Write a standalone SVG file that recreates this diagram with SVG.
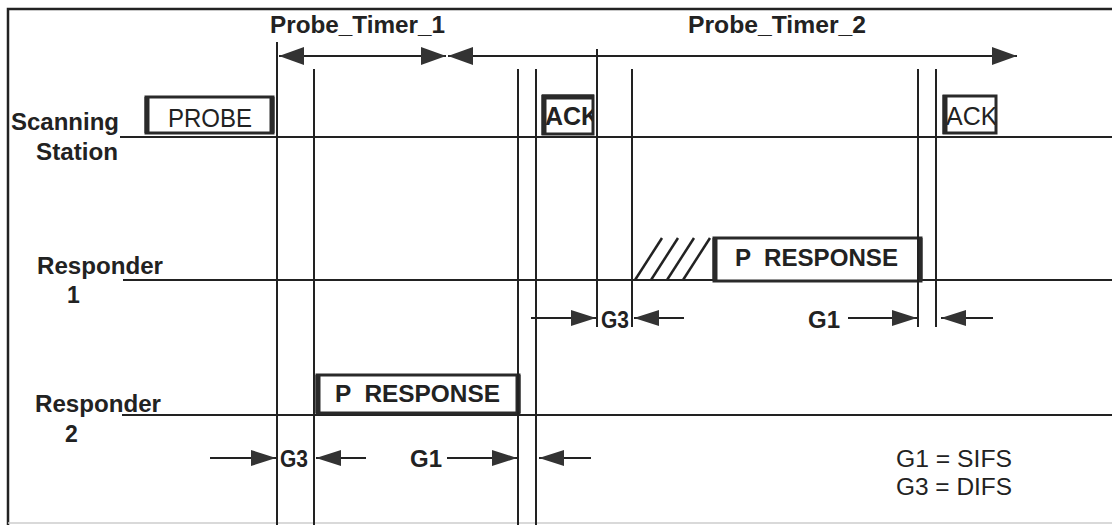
<svg xmlns="http://www.w3.org/2000/svg" width="1112" height="529" viewBox="0 0 1112 529">
<style>
.t{font-family:"Liberation Sans",Arial,sans-serif;font-size:23px;fill:#222;font-weight:bold}
.r{font-weight:normal}
.big{font-size:25px}
.ln{stroke:#222;stroke-width:2;fill:none}
.box{fill:#fff;stroke:#2a2a2a;stroke-width:3}
.side{stroke:#2a2a2a;stroke-width:5}
.hat{stroke:#222;stroke-width:2.5}
</style>
<defs>
<marker id="ah" markerUnits="userSpaceOnUse" markerWidth="26" markerHeight="18" refX="25" refY="8" orient="auto-start-reverse"><path d="M0,0 L25,8 L0,16 Z" fill="#333"/></marker>
<marker id="th" markerUnits="userSpaceOnUse" markerWidth="26" markerHeight="20" refX="25" refY="9" orient="auto-start-reverse"><path d="M0,0 L25,9 L0,18 Z" fill="#333"/></marker>
<clipPath id="c1"><rect x="542" y="95" width="50" height="40"/></clipPath>
<clipPath id="c2"><rect x="943" y="95" width="52" height="40"/></clipPath>
</defs>
<rect width="1112" height="529" fill="#fff"/>
<g id="frame">
<path d="M8,525 L8,9 L1112,9" stroke="#222" stroke-width="2.5" fill="none"/>
<line x1="8" y1="523" x2="1112" y2="523" stroke="#ccc" stroke-width="1.5"/>
</g>
<g id="scanning-station">
<text class="t" x="11" y="130" textLength="108" lengthAdjust="spacingAndGlyphs">Scanning</text>
<text class="t" x="36" y="160" textLength="82" lengthAdjust="spacingAndGlyphs">Station</text>
<line class="ln" x1="120" y1="137" x2="1112" y2="137"/>
</g>
<g id="responder-1">
<text class="t" x="37" y="274" textLength="126" lengthAdjust="spacingAndGlyphs">Responder</text>
<text class="t" x="67" y="303">1</text>
<line class="ln" x1="123" y1="280" x2="1112" y2="280"/>
</g>
<g id="responder-2">
<text class="t" x="35" y="412" textLength="126" lengthAdjust="spacingAndGlyphs">Responder</text>
<text class="t" x="65" y="442">2</text>
<line class="ln" x1="122" y1="415" x2="1112" y2="415"/>
</g>
<g id="probe">
<rect class="box" x="146" y="97" width="127" height="36"/>
<line class="side" x1="147" y1="97" x2="147" y2="133"/>
<line class="side" x1="272" y1="97" x2="272" y2="133"/>
<text class="t r big" x="168" y="127" textLength="84" lengthAdjust="spacingAndGlyphs">PROBE</text>
</g>
<g id="ack-1">
<rect class="box" x="543" y="96" width="50" height="38"/>
<text class="t big" x="545" y="125" clip-path="url(#c1)">ACK</text>
<line class="side" x1="544" y1="95" x2="544" y2="135"/>
<line x1="542" y1="97" x2="594" y2="97" stroke="#2a2a2a" stroke-width="5"/>
</g>
<g id="ack-2">
<rect class="box" x="944" y="96" width="52" height="37"/>
<text class="t big r" x="946" y="125" clip-path="url(#c2)">ACK</text>
<line class="side" x1="945" y1="95" x2="945" y2="134"/>
</g>
<g id="p-response-1">
<line class="hat" x1="635" y1="280" x2="662" y2="238"/>
<line class="hat" x1="651" y1="280" x2="678" y2="238"/>
<line class="hat" x1="667" y1="280" x2="694" y2="238"/>
<line class="hat" x1="683" y1="280" x2="710" y2="238"/>
<rect class="box" x="714" y="238" width="207" height="43"/>
<line class="side" x1="715" y1="238" x2="715" y2="281"/>
<line class="side" x1="920" y1="238" x2="920" y2="281"/>
<text class="t" x="735" y="266" textLength="163" lengthAdjust="spacingAndGlyphs" xml:space="preserve">P  RESPONSE</text>
</g>
<g id="p-response-2">
<rect class="box" x="317" y="375" width="202" height="38"/>
<line class="side" x1="318" y1="375" x2="318" y2="413"/>
<line class="side" x1="518" y1="375" x2="518" y2="413"/>
<text class="t" x="335" y="402" textLength="165" lengthAdjust="spacingAndGlyphs" xml:space="preserve">P  RESPONSE</text>
</g>
<g id="timers">
<text class="t" x="270" y="33" textLength="175" lengthAdjust="spacingAndGlyphs">Probe_Timer_1</text>
<text class="t" x="688" y="33" textLength="178" lengthAdjust="spacingAndGlyphs">Probe_Timer_2</text>
</g>
<g id="legend">
<text class="t r" x="896" y="467" textLength="116" lengthAdjust="spacingAndGlyphs">G1 = SIFS</text>
<text class="t r" x="896" y="495" textLength="116" lengthAdjust="spacingAndGlyphs">G3 = DIFS</text>
</g>
<g id="connectors">
<line class="ln" x1="277" y1="42" x2="277" y2="525"/>
<line class="ln" x1="314" y1="69" x2="314" y2="525"/>
<line class="ln" x1="518" y1="69" x2="518" y2="525"/>
<line class="ln" x1="536" y1="69" x2="536" y2="525"/>
<line class="ln" x1="597" y1="49" x2="597" y2="327"/>
<line class="ln" x1="632" y1="69" x2="632" y2="327"/>
<line class="ln" x1="918" y1="69" x2="918" y2="327"/>
<line class="ln" x1="936" y1="69" x2="936" y2="327"/>
<line class="ln" x1="279" y1="56" x2="446" y2="56" marker-start="url(#th)" marker-end="url(#th)"/>
<line class="ln" x1="448" y1="56" x2="1017" y2="56" marker-start="url(#th)" marker-end="url(#th)"/>
<line class="ln" x1="531" y1="318" x2="596" y2="318" marker-end="url(#ah)"/>
<text class="t" x="601" y="328" textLength="28" lengthAdjust="spacingAndGlyphs">G3</text>
<line class="ln" x1="684" y1="318" x2="634" y2="318" marker-end="url(#ah)"/>
<text class="t" x="808" y="328" textLength="32" lengthAdjust="spacingAndGlyphs">G1</text>
<line class="ln" x1="848" y1="318" x2="917" y2="318" marker-end="url(#ah)"/>
<line class="ln" x1="993" y1="318" x2="941" y2="318" marker-end="url(#ah)"/>
<line class="ln" x1="210" y1="458" x2="276" y2="458" marker-end="url(#ah)"/>
<text class="t" x="280" y="467" textLength="28" lengthAdjust="spacingAndGlyphs">G3</text>
<line class="ln" x1="366" y1="458" x2="316" y2="458" marker-end="url(#ah)"/>
<text class="t" x="410" y="467" textLength="32" lengthAdjust="spacingAndGlyphs">G1</text>
<line class="ln" x1="447" y1="458" x2="517" y2="458" marker-end="url(#ah)"/>
<line class="ln" x1="591" y1="458" x2="539" y2="458" marker-end="url(#ah)"/>
</g>
</svg>
